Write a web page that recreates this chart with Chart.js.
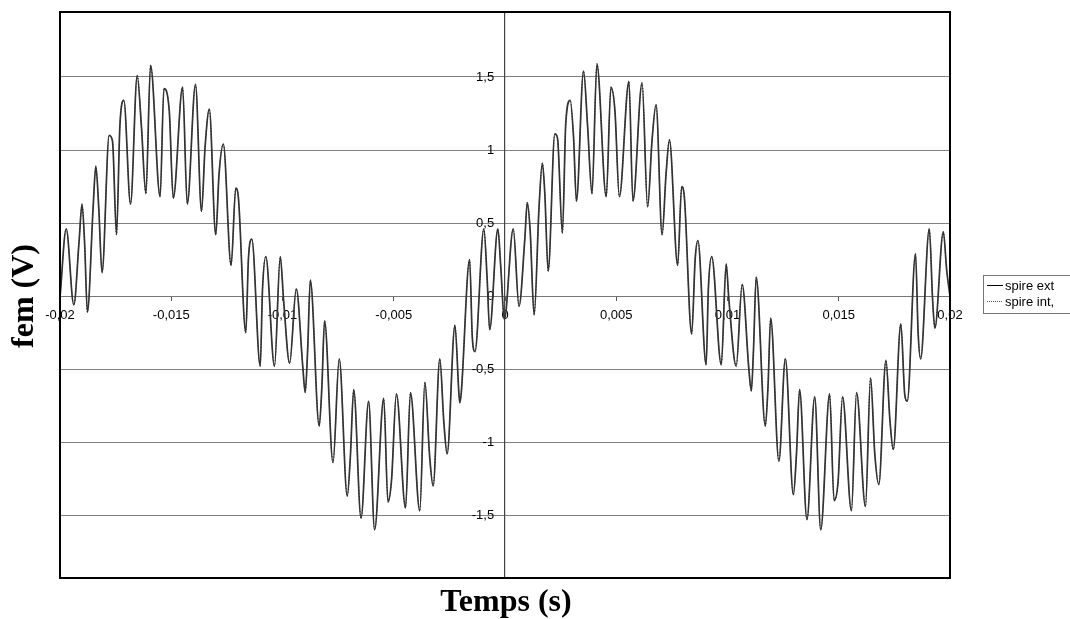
<!DOCTYPE html>
<html>
<head>
<meta charset="utf-8">
<script src="https://cdn.jsdelivr.net/npm/chart.js@4/dist/chart.umd.min.js"></script>
<style>
  html, body { margin: 0; padding: 0; background: #fff; }
  #wrap { width: 1070px; height: 619px; }
</style>
</head>
<body>
<div id="wrap"><canvas id="chart" width="1070" height="619"></canvas></div>
<script>
// temps (s)
const temps = [
    -0.02000, -0.01972, -0.01938, -0.01914, -0.01901, -0.01889, -0.01877, -0.01851, -0.01839, -0.01826,
    -0.01811, -0.01779, -0.01764, -0.01746, -0.01731, -0.01713, -0.01683, -0.01653, -0.01634, -0.01614,
    -0.01593, -0.01550, -0.01533, -0.01509, -0.01491, -0.01449, -0.01428, -0.01391, -0.01364, -0.01348,
    -0.01329, -0.01300, -0.01285, -0.01266, -0.01231, -0.01210, -0.01198, -0.01165, -0.01153, -0.01138,
    -0.01100, -0.01090, -0.01075, -0.01036, -0.01010, -0.00995, -0.00968, -0.00938, -0.00909, -0.00898,
    -0.00887, -0.00875, -0.00835, -0.00823, -0.00811, -0.00773, -0.00745, -0.00709, -0.00695, -0.00680,
    -0.00647, -0.00613, -0.00586, -0.00545, -0.00526, -0.00510, -0.00488, -0.00447, -0.00425, -0.00383,
    -0.00360, -0.00339, -0.00323, -0.00293, -0.00275, -0.00260, -0.00225, -0.00207, -0.00203, -0.00197,
    -0.00159, -0.00147, -0.00135, -0.00095, -0.00080, -0.00069, -0.00032, -0.00019, -0.00003,
    0.00037, 0.00063, 0.00089, 0.00100, 0.00113, 0.00131, 0.00153, 0.00168, 0.00179, 0.00194,
    0.00224, 0.00236, 0.00258, 0.00273, 0.00293, 0.00308, 0.00321, 0.00353, 0.00371, 0.00391,
    0.00413, 0.00455, 0.00476, 0.00494, 0.00514, 0.00557, 0.00575, 0.00616, 0.00641, 0.00661,
    0.00679, 0.00706, 0.00724, 0.00739, 0.00776, 0.00794, 0.00806, 0.00839, 0.00855, 0.00867,
    0.00904, 0.00914, 0.00929, 0.00972, 0.00994, 0.01006, 0.01039, 0.01066, 0.01096, 0.01107,
    0.01117, 0.01129, 0.01170, 0.01182, 0.01194, 0.01231, 0.01260, 0.01296, 0.01310, 0.01324,
    0.01357, 0.01392, 0.01419, 0.01459, 0.01479, 0.01497, 0.01517, 0.01557, 0.01580, 0.01620,
    0.01643, 0.01662, 0.01680, 0.01712, 0.01730, 0.01745, 0.01779, 0.01797, 0.01808, 0.01845,
    0.01857, 0.01868, 0.01907, 0.01922, 0.01932, 0.01970, 0.01985, 0.02000
];

// fem (V) spire ext
const spireExt = [
    -0.01, 0.46, -0.06, 0.38, 0.63, 0.35, -0.11, 0.61, 0.89, 0.61,
    0.16, 1.10, 1.06, 0.42, 1.16, 1.34, 0.63, 1.51, 1.16, 0.70,
    1.58, 0.68, 1.42, 1.27, 0.67, 1.43, 0.63, 1.45, 0.58, 1.02,
    1.28, 0.42, 0.84, 1.04, 0.21, 0.74, 0.67, -0.25, 0.26, 0.39,
    -0.48, 0.04, 0.27, -0.48, 0.27, -0.03, -0.46, 0.05, -0.48, -0.66,
    -0.37, 0.11, -0.89, -0.62, -0.17, -1.14, -0.43, -1.37, -1.10, -0.64,
    -1.52, -0.72, -1.60, -0.70, -1.41, -1.26, -0.67, -1.45, -0.66, -1.47,
    -0.59, -1.09, -1.30, -0.43, -0.86, -1.08, -0.20, -0.67, -0.73, -0.67,
    0.25, -0.28, -0.38, 0.46, 0.11, -0.23, 0.46, 0.20, -0.16,
    0.46, -0.07, 0.39, 0.64, 0.45, -0.13, 0.61, 0.91, 0.70, 0.17,
    1.11, 1.08, 0.43, 1.18, 1.34, 1.09, 0.65, 1.54, 1.17, 0.70,
    1.59, 0.68, 1.43, 1.27, 0.68, 1.47, 0.65, 1.46, 0.61, 1.07,
    1.31, 0.42, 0.84, 1.07, 0.21, 0.75, 0.68, -0.26, 0.26, 0.38,
    -0.47, 0.05, 0.27, -0.47, 0.22, -0.02, -0.48, 0.08, -0.50, -0.65,
    -0.36, 0.13, -0.89, -0.62, -0.15, -1.13, -0.43, -1.36, -1.08, -0.64,
    -1.53, -0.69, -1.60, -0.67, -1.40, -1.27, -0.69, -1.47, -0.66, -1.44,
    -0.56, -1.08, -1.29, -0.44, -0.85, -1.05, -0.19, -0.68, -0.72, 0.29,
    -0.26, -0.43, 0.46, -0.03, -0.22, 0.44, 0.18, 0.00
];

// spire int, : the dotted trace lies on top of spire ext everywhere in the scan
const spireInt = spireExt.slice();

const xTicks = { min: -0.02, max: 0.02, step: 0.005 };
const yTicks = { min: -1.93, max: 1.945, step: 0.5 };

const seriesNames = ['spire ext', 'spire int,'];

function frNum(v) {
    return (Math.round(v * 1000) / 1000).toString().replace('.', ',');
}

const toPoints = vals => temps.map((t, i) => ({ x: t, y: vals[i] }));

const tickFont = { family: '"Liberation Sans", Arial, sans-serif', size: 13 };

const decor = {
    id: 'decor',
    beforeDraw(chart) {
        const ctx = chart.ctx;
        ctx.save();
        ctx.fillStyle = '#fff';
        ctx.fillRect(0, 0, chart.width, chart.height);
        ctx.restore();
    },
    afterDraw(chart) {
        const ctx = chart.ctx;
        const a = chart.chartArea;
        ctx.save();
        // plot frame
        ctx.strokeStyle = '#000';
        ctx.lineWidth = 2;
        ctx.strokeRect(a.left, a.top, a.right - a.left, a.bottom - a.top);

        // axis titles
        ctx.fillStyle = '#000';
        ctx.font = 'bold 32px "Liberation Serif", "Times New Roman", serif';
        ctx.textAlign = 'center';
        ctx.textBaseline = 'middle';
        ctx.fillText('Temps (s)', (a.left + a.right) / 2 + 1, 603);
        ctx.save();
        ctx.translate(25, 296);
        ctx.rotate(-Math.PI / 2);
        ctx.fillText('fem (V)', 0, 0);
        ctx.restore();

        // legend
        const lx = a.right + 33, ly = 275;
        ctx.strokeStyle = '#777';
        ctx.lineWidth = 1;
        ctx.strokeRect(lx + 0.5, ly + 0.5, 120, 38);
        ctx.font = '13px "Liberation Sans", Arial, sans-serif';
        ctx.textAlign = 'left';
        chart.data.datasets.forEach((ds, i) => {
            const y = ly + 10 + i * 16;
            ctx.beginPath();
            ctx.strokeStyle = i === 0 ? '#000' : '#555';
            ctx.lineWidth = 1;
            ctx.setLineDash(i === 0 ? [] : [1, 1]);
            ctx.moveTo(lx + 4, y + 0.5);
            ctx.lineTo(lx + 20, y + 0.5);
            ctx.stroke();
            ctx.setLineDash([]);
            ctx.fillStyle = '#000';
            ctx.fillText(ds.label, lx + 22, y + 1);
        });
        ctx.restore();
    }
};

const chart = new Chart(document.getElementById('chart').getContext('2d'), {
    type: 'line',
    data: {
        datasets: [
            {
                label: seriesNames[0],
                data: toPoints(spireExt),
                borderColor: '#333',
                borderWidth: 1.7,
                pointRadius: 0,
                cubicInterpolationMode: 'monotone'
            },
            {
                label: seriesNames[1],
                data: toPoints(spireInt),
                borderColor: '#000',
                borderWidth: 1,
                borderDash: [1, 2],
                pointRadius: 0,
                cubicInterpolationMode: 'monotone'
            }
        ]
    },
    options: {
        responsive: false,
        animation: false,
        events: [],
        layout: { padding: { left: 60, right: 120, top: 12, bottom: 41 } },
        plugins: { legend: { display: false }, tooltip: { enabled: false } },
        scales: {
            x: {
                type: 'linear',
                position: { y: 0 },
                min: xTicks.min,
                max: xTicks.max,
                afterFit(s) { s.height = 0; },
                grid: { drawOnChartArea: false, drawTicks: true, tickLength: 4, color: '#555' },
                border: { display: true, color: '#777', width: 1 },
                ticks: {
                    stepSize: xTicks.step,
                    maxRotation: 0,
                    autoSkip: false,
                    padding: 8,
                    color: '#000',
                    font: tickFont,
                    callback: v => frNum(v)
                }
            },
            y: {
                type: 'linear',
                position: { x: 0 },
                min: yTicks.min,
                max: yTicks.max,
                afterFit(s) { s.width = 0; },
                grid: { color: '#808080', lineWidth: 1, drawTicks: false },
                border: { display: true, color: '#444', width: 1.2 },
                ticks: {
                    stepSize: yTicks.step,
                    includeBounds: false,
                    color: '#000',
                    font: tickFont,
                    // positioned axes ignore ticks.padding, so trailing spaces keep the gap
                    callback: v => frNum(v) + '   '
                }
            }
        }
    },
    plugins: [decor]
});
</script>
</body>
</html>
